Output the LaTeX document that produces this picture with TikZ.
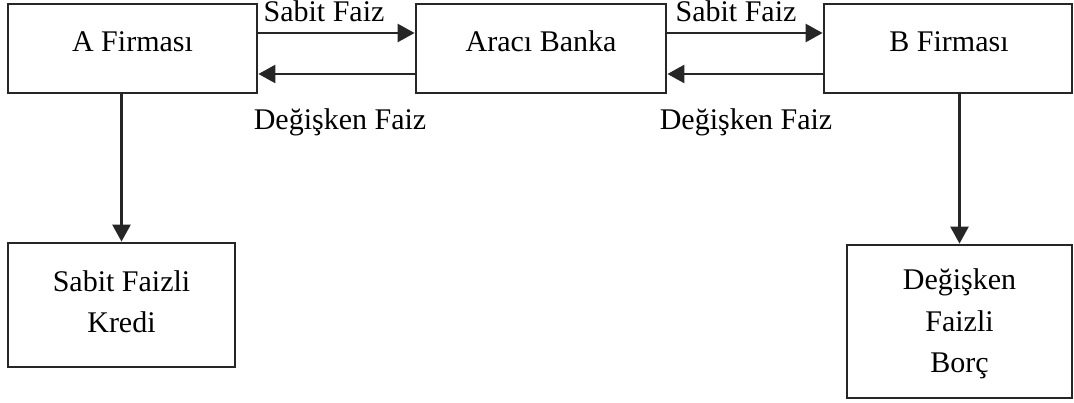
\documentclass[tikz,border=0pt]{standalone}
\usepackage{fontspec}
\setmainfont{Liberation Serif}
\usetikzlibrary{arrows.meta}
\begin{document}
\begin{tikzpicture}[x=1pt,y=-1pt,
  box/.style={draw=black!85, line width=2.8pt, rectangle, inner sep=0pt},
  txt/.style={font=\fontsize{30}{41.5}\selectfont, inner sep=0pt, anchor=base, align=center},
  arr/.style={draw=black!85, line width=2.6pt, -{Triangle[length=17pt,width=18pt]}}]
\useasboundingbox (0,0) rectangle (1074,403);
% upper row of boxes
\node[box, minimum width=249pt, minimum height=89pt] (A) at (132.5,48.5) {};
\node[box, minimum width=250pt, minimum height=89pt] (K) at (541,48.5) {};
\node[box, minimum width=248pt, minimum height=89pt] (B) at (948,48.5) {};
% lower boxes
\node[box, minimum width=227pt, minimum height=124pt] (AK) at (121.5,305) {};
\node[box, minimum width=225pt, minimum height=153pt] (BB) at (959.5,321.5) {};
% box texts (base anchor = baseline of the last line)
\node[txt] (At) at (132.5,52) {A Firması};
\node[txt] (Kt) at (541,52) {Aracı Banka};
\node[txt] (Bt) at (949,52) {B Firması};
\node[txt] (AKt) at (121.5,333) {Sabit Faizli\\Kredi};
\node[txt] (BBt) at (959.5,373) {Değişken\\Faizli\\Borç};
% arrow rows
\coordinate (r1) at (0,33);
\coordinate (r2) at (0,74);
\draw[arr] (A.east |- r1) -- (K.west |- r1);
\draw[arr] (K.west |- r2) -- (A.east |- r2);
\draw[arr] (K.east |- r1) -- (B.west |- r1);
\draw[arr] (B.west |- r2) -- (K.east |- r2);
\draw[arr] (A.south -| AK.north) -- (AK.north);
\draw[arr] (B.south -| BB.north) -- (BB.north);
% arrow labels
\node[txt] (l1) at (324,22) {Sabit Faiz};
\node[txt] (l2) at (340,130) {Değişken Faiz};
\node[txt] (l3) at (736,22) {Sabit Faiz};
\node[txt] (l4) at (746,130) {Değişken Faiz};
\end{tikzpicture}
\end{document}
